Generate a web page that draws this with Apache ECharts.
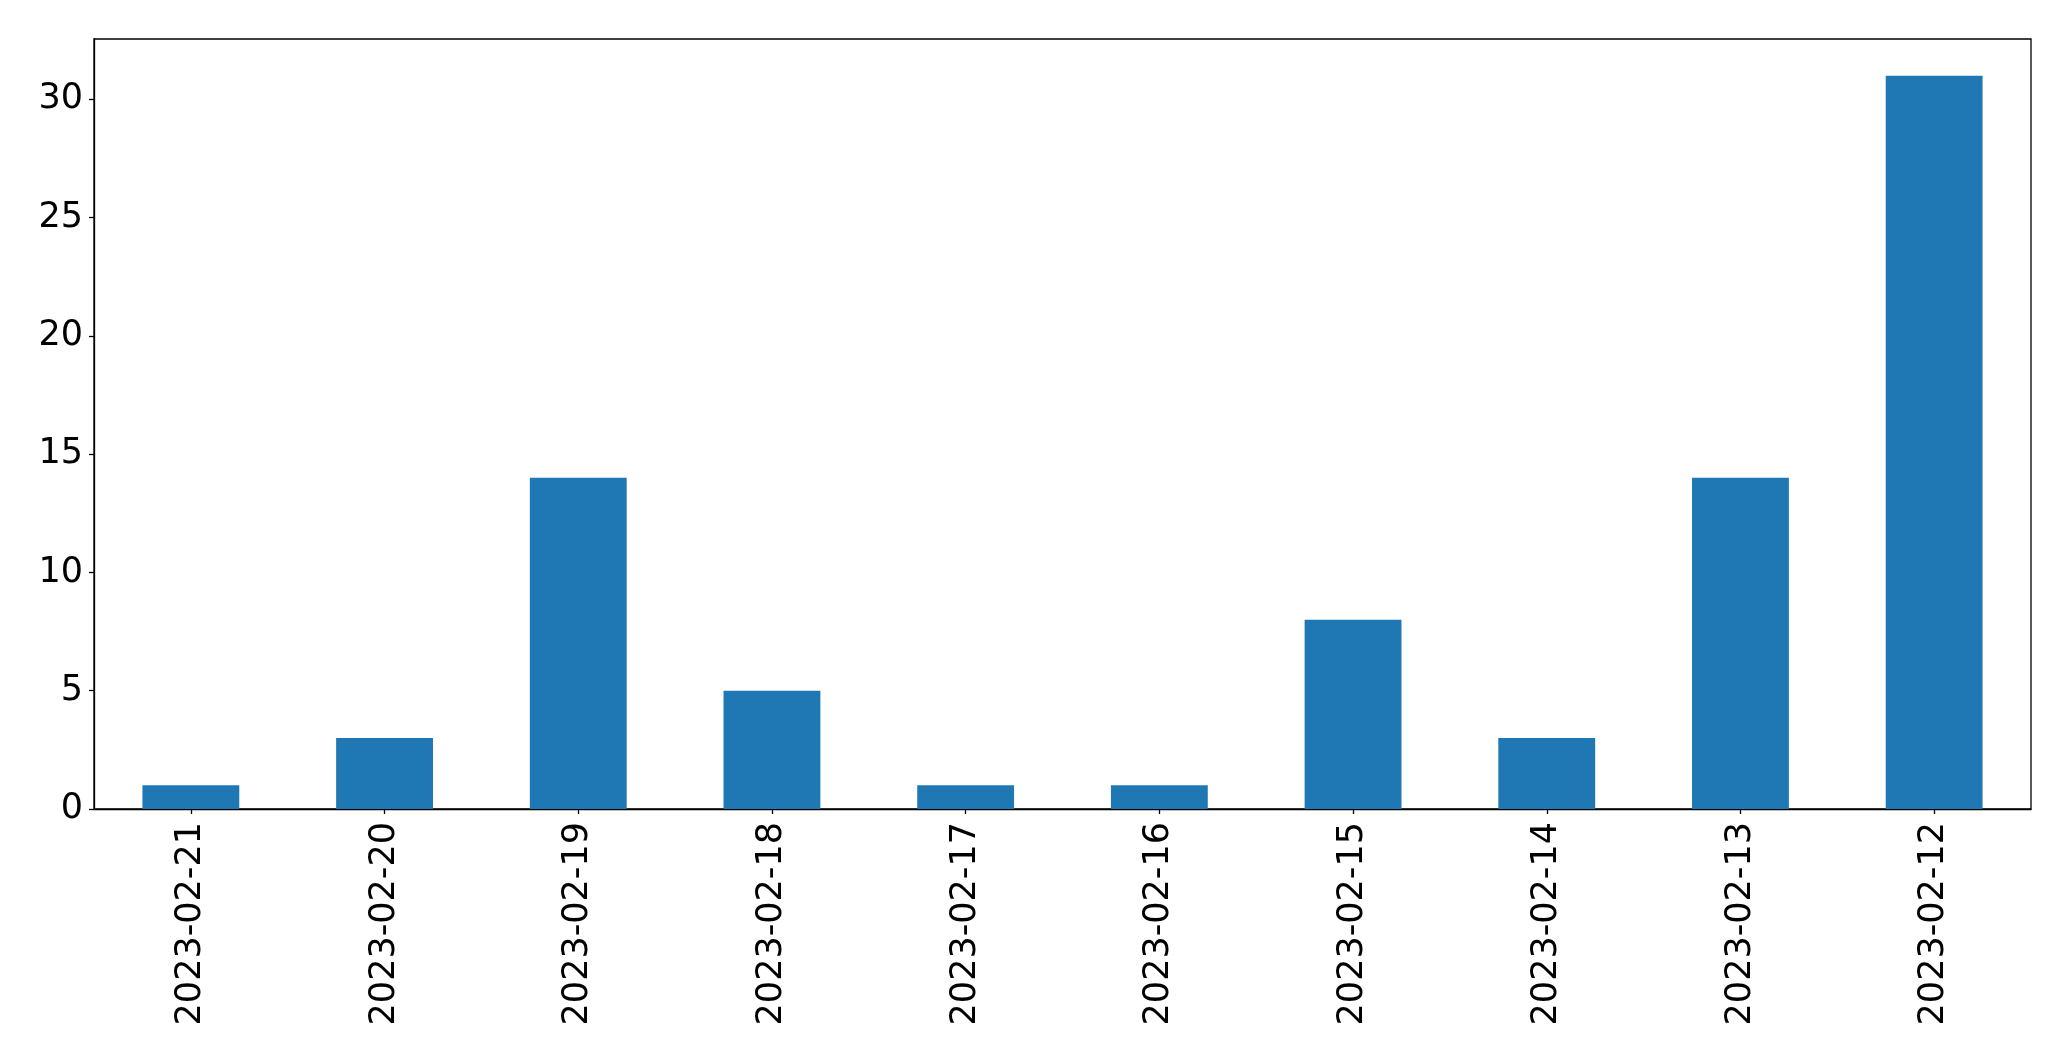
<!DOCTYPE html>
<html>
<head>
<meta charset="utf-8">
<script src="https://cdn.jsdelivr.net/npm/echarts@6/dist/echarts.min.js"></script>
<style>
html,body{margin:0;padding:0;background:#fff;}
#chart{width:2071px;height:1061px;}
</style>
</head>
<body>
<div id="chart"></div>
<script>
const categories = ['2023-02-21','2023-02-20','2023-02-19','2023-02-18','2023-02-17','2023-02-16','2023-02-15','2023-02-14','2023-02-13','2023-02-12'];
const values = [1,3,14,5,1,1,8,3,14,31];
const yTicks = [0,5,10,15,20,25,30];

const chart = echarts.init(document.getElementById('chart'), null, {renderer:'canvas'});
const font = 'DejaVu Sans';
chart.setOption({
  animation:false,
  backgroundColor:'#fff',
  grid:{left:94,right:40,top:39,bottom:252,show:true,borderColor:'#000',borderWidth:1.3,backgroundColor:'transparent'},
  xAxis:{
    type:'category',
    data:categories,
    axisLine:{show:true,lineStyle:{color:'#000',width:1.3}},
    axisTick:{show:true,alignWithLabel:true,length:5,lineStyle:{color:'#000',width:1.3}},
    axisLabel:{rotate:90,fontFamily:font,fontSize:35,color:'#000',margin:13,interval:0},
    splitLine:{show:false}
  },
  yAxis:{
    type:'value',
    min:0,
    max:Math.max(...values)*1.05,
    interval:5,
    axisLine:{show:true,lineStyle:{color:'#000',width:1.3}},
    axisTick:{show:true,length:5,lineStyle:{color:'#000',width:1.3}},
    axisLabel:{fontFamily:font,fontSize:35,color:'#000',margin:11,showMaxLabel:false,
      formatter:v=>yTicks.includes(v)?String(v):''},
    splitLine:{show:false}
  },
  series:[{
    type:'bar',
    data:values,
    barWidth:'50%',
    itemStyle:{color:'#1f77b4'}
  }]
});
</script>
</body>
</html>
